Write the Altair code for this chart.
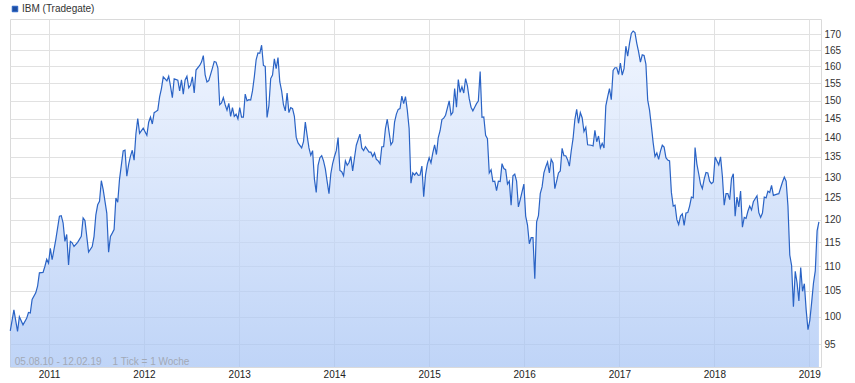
import altair as alt
import pandas as pd

# ---------------- data ----------------
series_name = "IBM (Tradegate)"
start_date = "2010-08-05"
end_date = "2019-02-12"
start_label = "05.08.10"
end_label = "12.02.19"
tick_note = "1 Tick = 1 Woche"

# week offset from start_date (1 tick = 1 week) and closing price
weeks = [
    0, 2, 4, 5, 7, 9, 10, 11, 12, 14, 15, 16, 18, 19, 20, 21, 22, 23, 25, 27,
    28, 29, 30, 31, 32, 33, 34, 35, 37, 39, 40, 41, 43, 45, 46, 47, 48, 49, 50, 51,
    53, 54, 55, 56, 57, 58, 59, 60, 62, 63, 64, 65, 66, 67, 68, 69, 70, 71, 73, 75,
    76, 77, 78, 79, 80, 81, 82, 83, 84, 86, 87, 88, 89, 90, 92, 93, 94, 95, 96, 97,
    98, 99, 100, 101, 102, 104, 105, 106, 107, 108, 109, 111, 112, 113, 114, 115,
    116, 117, 118, 119, 120, 121, 122, 123, 124, 125, 126, 127, 128, 129, 130, 131,
    132, 133, 134, 135, 136, 137, 138, 139, 140, 141, 142, 143, 144, 145, 146, 147,
    148, 149, 150, 151, 152, 153, 154, 155, 156, 157, 158, 160, 161, 162, 163, 164,
    165, 166, 167, 168, 169, 170, 171, 172, 173, 174, 175, 176, 177, 178, 179, 180,
    181, 182, 183, 184, 185, 186, 187, 188, 189, 190, 192, 193, 194, 195, 197, 198,
    199, 200, 201, 202, 203, 204, 205, 206, 207, 208, 209, 210, 211, 212, 213, 214,
    215, 216, 217, 218, 219, 220,
    221, 222, 223, 224, 225, 226, 227, 228, 229, 230, 231, 232, 233, 234, 235, 236,
    237, 238, 239, 241, 242, 243, 244, 245, 246, 247, 248, 249, 250, 251, 252, 253,
    254, 255, 256, 257, 258, 259, 260, 261, 262, 263, 264, 265, 266, 267, 268, 269,
    270, 271, 272, 273, 274, 275, 276, 277, 278, 279, 280, 281, 282, 283, 284, 285,
    286, 287, 288, 289, 290, 291, 292, 293, 294, 295, 296, 297, 298, 299, 300, 301,
    302, 303, 304, 305, 306, 307, 308, 309, 310, 311, 312, 313, 314, 315, 316, 317,
    319, 320, 321, 322, 323, 324, 325, 326, 327, 328, 329, 330,
    331, 332, 333, 334, 335, 336, 337, 338, 339, 340, 341, 342, 343, 344, 345, 346,
    347, 348, 349, 350, 351, 352, 353, 354, 355, 356, 357, 358, 359, 360, 361, 362,
    363, 364, 365, 366, 367, 368, 369, 370, 371, 372, 373, 374, 375, 376, 377, 378,
    379, 380, 381, 382, 383, 384, 385, 386, 387, 388, 389, 390, 391, 392, 393, 394,
    395, 396, 397, 398, 399, 400, 401, 402, 403, 404, 405, 406, 407, 408, 410, 411,
    412, 413, 414, 415, 416, 417, 418, 419, 421, 422, 423, 424, 425, 426, 427, 428,
    429, 430, 431, 432, 433, 434, 435, 436, 437, 438, 439, 440, 441, 442, 443, 444,
]

prices = [
    97.4, 101.3, 97.3, 100.0, 98.5, 99.7, 100.8, 100.7, 103.3, 104.6, 105.9, 108.6, 108.7, 109.9, 111.4, 110.6, 113.7, 111.3, 115.6, 120.8,
    120.9, 119.3, 115.2, 116.7, 110.2, 115.2, 114.9, 114.1, 115.0, 116.3, 120.4, 119.8, 112.9, 114.1, 116.3, 121.1, 123.4, 124.2, 129.1, 127.0,
    121.5, 112.9, 116.3, 117.0, 117.8, 125.0, 124.0, 129.5, 136.5, 136.7, 130.2, 133.1, 135.2, 136.7, 134.2, 141.0, 145.1, 141.1, 142.5, 140.6,
    144.1, 145.5, 143.6, 146.7, 147.0, 147.4, 151.1, 153.5, 156.9, 155.7, 157.1, 154.1, 150.9, 156.3, 155.9, 152.8, 156.0, 151.9, 156.0, 157.1,
    153.7, 154.5, 156.9, 152.2, 158.9, 160.3, 161.3, 163.3, 157.5, 155.4, 155.8, 159.5, 161.5, 161.3, 159.5, 148.9,
    149.4, 150.9, 148.9, 147.4, 149.3, 145.7, 148.1, 145.7, 146.3, 145.0, 148.1, 145.5, 145.5, 151.9, 150.0, 150.3,
    150.2, 152.8, 156.9, 162.0, 164.1, 164.0, 166.5, 160.3, 160.0, 145.4, 148.6, 156.4, 157.4, 162.3, 159.3, 162.7,
    155.4, 152.8, 148.9, 147.2, 152.2, 146.7, 148.1, 147.8, 145.7, 140.1, 138.6, 137.3, 138.9, 144.1, 140.6, 137.3,
    135.4, 136.6, 129.5, 126.3, 132.9, 134.8, 135.3, 134.0, 132.0, 128.9, 126.0, 130.8, 133.3, 135.1, 136.6, 140.0,
    131.6, 131.3, 130.3, 134.0, 132.9, 133.6, 135.1, 131.5, 134.8, 138.0, 140.9, 137.3, 136.6, 137.6, 136.2, 136.2,
    135.1, 136.0, 134.4, 134.0, 133.3, 137.6, 137.6, 142.4, 144.9, 141.4, 138.1, 138.9, 144.1, 146.3, 147.6, 147.8,
    151.3, 149.2, 151.2, 147.4, 142.4, 128.5,
    131.0, 130.5, 131.1, 130.4, 130.5, 132.7, 125.3, 130.5, 133.2, 134.8, 133.5, 136.0, 138.1, 135.6, 140.0, 141.8,
    144.8, 145.2, 146.0, 150.0, 146.1, 146.8, 153.5, 148.2, 156.1, 152.4, 154.0, 152.2, 156.4, 154.3, 150.6, 148.2,
    147.2, 148.2, 149.2, 149.9, 158.5, 145.4, 145.5, 140.6, 139.7, 131.0, 131.8, 128.9, 129.0, 126.7, 129.0, 128.9,
    133.3, 132.1, 131.8, 128.3, 129.0, 123.3, 130.3, 130.7, 129.0, 122.9, 124.6, 126.4, 128.3, 120.8, 118.8, 114.7,
    116.0, 116.0, 107.4, 119.5, 120.9, 126.0, 127.6, 131.0, 132.5, 133.7, 131.0, 134.4, 133.5, 127.2, 129.0, 131.0,
    131.5, 137.2, 135.3, 135.3, 134.3, 132.7, 136.5, 139.7, 144.8, 147.6, 143.8, 146.7, 145.3, 141.6, 142.7, 138.1,
    138.0, 137.8, 141.9, 138.9, 140.4, 137.3, 138.5, 137.3, 148.6, 151.1, 153.5, 150.3,
    158.8, 159.6, 159.6, 157.6, 161.0, 157.4, 159.3, 166.2, 163.1, 167.1, 170.2, 171.0, 170.5, 167.1, 164.4, 161.3,
    163.5, 163.3, 160.7, 150.2, 147.4, 143.1, 138.6, 135.1, 136.0, 134.4, 136.5, 138.0, 137.5, 134.8, 134.2, 134.0,
    126.3, 123.1, 123.3, 120.0, 118.9, 120.8, 121.3, 118.7, 121.5, 121.6, 123.1, 125.2, 125.0, 137.4, 133.2, 130.8,
    128.3, 127.2, 129.5, 131.1, 131.0, 129.0, 128.4, 128.8, 135.0, 134.0, 133.0, 135.0, 130.2, 123.3, 126.0, 126.0,
    124.6, 129.6, 130.8, 120.8, 125.2, 122.9, 126.6, 118.3, 120.5, 120.3, 121.9, 123.1, 122.2, 124.1, 125.5, 121.6,
    120.5, 121.5, 125.2, 125.0, 126.6, 126.3, 128.0, 125.6, 125.9, 126.0, 127.4, 128.8, 130.0, 129.0, 123.1, 112.3,
    110.1, 101.9, 108.9, 106.6, 103.0, 109.7, 104.9, 106.4, 101.3, 97.6, 99.3, 102.7, 106.5, 109.0, 117.5, 119.5,
]

y_ticks = [95, 100, 105, 110, 115, 120, 125, 130, 135, 140, 145, 150, 155, 160, 165, 170]
years = [2011, 2012, 2013, 2014, 2015, 2016, 2017, 2018, 2019]

# ---------------- tables ----------------
dates = pd.Timestamp(start_date) + pd.to_timedelta([w * 7 for w in weeks], unit="D")
df = pd.DataFrame({"date": dates, "price": prices, "series": series_name})
note_df = pd.DataFrame({"label": [f"{start_label} - {end_label}\u00a0\u00a0\u00a0 {tick_note}"]})

# ---------------- styling ----------------
FONT = "Liberation Sans, Arial, Helvetica, sans-serif"
W, H = 811, 348
GRID = "#e1e1e1"
LINE = "#2a63c5"

x_scale = alt.Scale(domain=[alt.DateTime(year=2010, month=8, date=4),
                            alt.DateTime(year=2019, month=2, date=15)])
y_scale = alt.Scale(type="log", domain=[91.0, 174.9], nice=False, zero=False)

x_axis = alt.Axis(values=[alt.DateTime(year=y, month=1, date=1) for y in years],
                  format="%Y", title=None, grid=True, gridColor=GRID, ticks=False,
                  domain=False, labelFont=FONT, labelFontSize=10, labelColor="#222222",
                  labelPadding=2, labelAngle=0)
y_axis = alt.Axis(values=y_ticks, orient="right", title=None, grid=True, gridColor=GRID,
                  ticks=False, domain=False, labelFont=FONT, labelFontSize=10,
                  labelColor="#333333", labelPadding=3)

gradient = alt.LinearGradient(
    gradient="linear",
    stops=[alt.GradientStop(color="#eaf1fe", offset=0),
           alt.GradientStop(color="#a4c2f4", offset=1)],
    x1=0, x2=0, y1=0, y2=1,
)

base = alt.Chart(df)

area = base.mark_area(color=gradient, opacity=0.7, interpolate="linear").encode(
    x=alt.X("date:T", scale=x_scale, axis=x_axis),
    y=alt.Y("price:Q", scale=y_scale, axis=y_axis),
    y2=alt.datum(91.0),
)

line = base.mark_line(strokeWidth=1.2, interpolate="linear").encode(
    x=alt.X("date:T", scale=x_scale),
    y=alt.Y("price:Q", scale=y_scale),
    color=alt.Color("series:N", scale=alt.Scale(range=[LINE]),
                    legend=alt.Legend(title=None, orient="none", legendX=0, legendY=-15,
                                      symbolType="square", symbolSize=30,
                                      symbolFillColor="#1d4ea3", symbolStrokeWidth=1,
                                      labelFont=FONT, labelFontSize=10,
                                      labelColor="#333333", labelOffset=2, padding=0)),
)

note = alt.Chart(note_df).mark_text(
    align="left", baseline="middle", font=FONT, fontSize=10, color="#a2a9b6", dx=4.5
).encode(
    x=alt.datum(alt.DateTime(year=2010, month=8, date=5), type="temporal", scale=x_scale),
    y=alt.value(H - 5.5),
    text="label:N",
)

chart = alt.layer(area, line, note).properties(
    width=W, height=H,
    autosize=alt.AutoSizeParams(type="none"),
    padding={"left": 10, "top": 19, "right": 34, "bottom": 16},
    background="#ffffff",
).configure_view(stroke="#dadada", strokeWidth=1)

chart.save("out.html", embed_options={"renderer": "svg", "actions": False})
